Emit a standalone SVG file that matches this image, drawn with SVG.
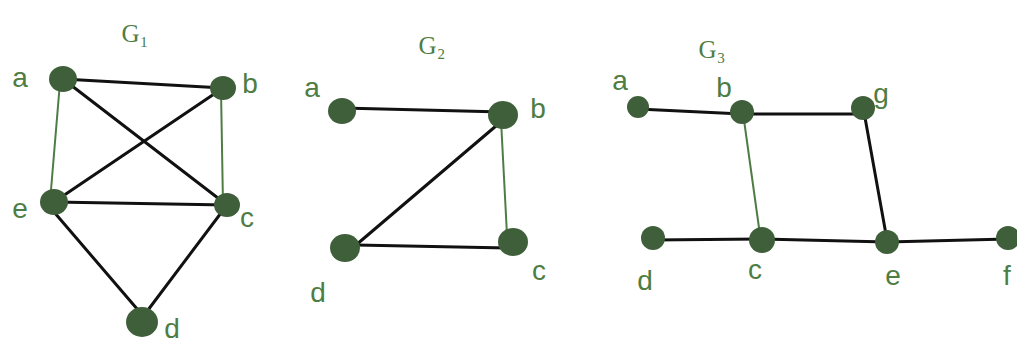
<svg xmlns="http://www.w3.org/2000/svg" width="1017" height="343" viewBox="0 0 1017 343">
<style>
.node{fill:#3f5f3a}
.lbl{font-family:"Liberation Sans",sans-serif;font-size:28px;fill:#4e7d43;text-anchor:middle}
.ttl{font-family:"Liberation Serif",serif;font-size:25px;fill:#4e7d43;text-anchor:middle}
.e{stroke:#111;stroke-width:3;stroke-linecap:round}
.g{stroke:#4e7d43;stroke-width:2;stroke-linecap:round}
</style>
<rect width="1017" height="343" fill="#ffffff"/>
<g id="connectors">
<line class="e" x1="63" y1="79" x2="223" y2="88"/>
<line class="e" x1="63" y1="79" x2="227" y2="205"/>
<line class="g" x1="60" y1="82" x2="50" y2="202"/>
<line class="e" x1="223" y1="88" x2="54" y2="202"/>
<line class="g" x1="221" y1="90" x2="223" y2="205"/>
<line class="e" x1="54" y1="202" x2="227" y2="205"/>
<line class="e" x1="54" y1="212" x2="138" y2="310"/>
<line class="e" x1="227" y1="205" x2="148" y2="310"/>
<line class="e" x1="342" y1="108" x2="503" y2="112"/>
<line class="e" x1="503" y1="120" x2="356" y2="245"/>
<line class="g" x1="501" y1="120" x2="507" y2="235"/>
<line class="e" x1="356" y1="245" x2="508" y2="248"/>
<line class="e" x1="638" y1="109" x2="742" y2="114"/>
<line class="e" x1="742" y1="114" x2="862" y2="114"/>
<line class="g" x1="744" y1="120" x2="760" y2="235"/>
<line class="e" x1="864" y1="112" x2="887" y2="240"/>
<line class="e" x1="652" y1="240" x2="762" y2="239"/>
<line class="e" x1="762" y1="239" x2="887" y2="242"/>
<line class="e" x1="887" y1="242" x2="1008" y2="239"/>
</g>
<g id="G1">
<text class="ttl" x="135" y="42">G₁</text>
<g id="g1-a"><ellipse class="node" cx="63" cy="79" rx="14" ry="13"/><text class="lbl" x="20" y="87">a</text></g>
<g id="g1-b"><ellipse class="node" cx="223" cy="88" rx="13" ry="12"/><text class="lbl" x="250" y="93">b</text></g>
<g id="g1-e"><ellipse class="node" cx="54" cy="202" rx="14" ry="13"/><text class="lbl" x="20" y="218">e</text></g>
<g id="g1-c"><ellipse class="node" cx="227" cy="205" rx="13" ry="12"/><text class="lbl" x="247" y="227">c</text></g>
<g id="g1-d"><ellipse class="node" cx="142" cy="322" rx="16" ry="15"/><text class="lbl" x="172" y="338">d</text></g>
</g>
<g id="G2">
<text class="ttl" x="432" y="54">G₂</text>
<g id="g2-a"><ellipse class="node" cx="342" cy="111" rx="14" ry="13"/><text class="lbl" x="312" y="97">a</text></g>
<g id="g2-b"><ellipse class="node" cx="503" cy="115" rx="15" ry="14"/><text class="lbl" x="538" y="118">b</text></g>
<g id="g2-d"><ellipse class="node" cx="345" cy="248" rx="15" ry="14"/><text class="lbl" x="318" y="302">d</text></g>
<g id="g2-c"><ellipse class="node" cx="513" cy="242" rx="15" ry="14"/><text class="lbl" x="539" y="280">c</text></g>
</g>
<g id="G3">
<text class="ttl" x="712" y="58">G₃</text>
<g id="g3-a"><ellipse class="node" cx="638" cy="107" rx="11" ry="11"/><text class="lbl" x="620" y="90">a</text></g>
<g id="g3-b"><ellipse class="node" cx="742" cy="112" rx="12" ry="12"/><text class="lbl" x="724" y="97">b</text></g>
<g id="g3-g"><ellipse class="node" cx="863" cy="108" rx="12" ry="12"/><text class="lbl" x="881" y="103">g</text></g>
<g id="g3-d"><ellipse class="node" cx="653" cy="238" rx="12" ry="12"/><text class="lbl" x="645" y="290">d</text></g>
<g id="g3-c"><ellipse class="node" cx="762" cy="240" rx="13" ry="13"/><text class="lbl" x="755" y="279">c</text></g>
<g id="g3-e"><ellipse class="node" cx="887" cy="242" rx="12" ry="12"/><text class="lbl" x="893" y="285">e</text></g>
<g id="g3-f"><ellipse class="node" cx="1008" cy="238" rx="12" ry="12"/><text class="lbl" x="1007" y="285">f</text></g>
</g>
</svg>
